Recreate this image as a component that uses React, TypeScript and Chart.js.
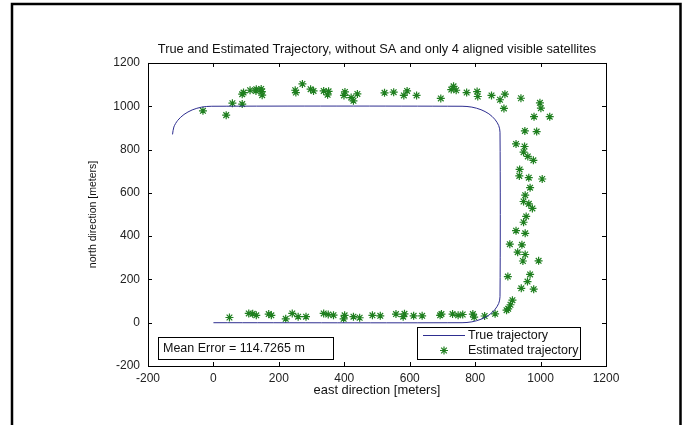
import React, { useEffect, useRef } from "react";
import { Chart, registerables } from "chart.js";

Chart.register(...registerables);

// True trajectory (east, north) in meters
const trueEast = [0, 760, 790, 818, 842, 860, 872, 876, 876, 872, 860, 842, 818, 790, 760, -5, -36, -65, -90, -109, -121, -125];
const trueNorth = [0, 0, 4, 16, 35, 60, 89, 120, 880, 911, 940, 965, 984, 996, 1000, 1000, 996, 983, 962, 935, 904, 870];

// Estimated trajectory (east, north) in meters
const estEast = [
  -32, 39, 58, 88, 88, 92, 112, 131, 146, 148, 149, 130, 250, 252, 272, 297, 306, 337, 352, 349,
  399, 402, 421, 428, 440, 523, 551, 582, 592, 621, 695, 727, 734, 742, 774, 806, 808, 850, 876, 891,
  888, 940, 998, 1001, 980, 1028,
  952, 988, 925, 951, 948, 961, 978, 936, 935, 964, 1005, 968, 953, 948, 964, 975, 956, 948, 953, 925,
  906, 943, 930, 953, 946, 994, 900, 968, 960, 941, 979, 914, 908, 901, 896, 861, 829, 797,
  793, 762, 748, 731, 697, 693, 638, 612, 584, 580, 558, 510, 486, 447, 428, 401, 398, 367, 351, 337,
  283, 259, 241, 221, 177, 169, 131, 120, 108, 49,
];
const estNorth = [
  979, 959, 1014, 1010, 1056, 1063, 1074, 1079, 1080, 1068, 1051, 1071, 1074, 1063, 1103, 1079, 1071, 1071, 1069, 1053,
  1050, 1066, 1040, 1025, 1057, 1062, 1065, 1050, 1071, 1050, 1036, 1077, 1092, 1074, 1063, 1068, 1045, 1050, 1030, 1056,
  990, 1037, 1016, 991, 952, 952,
  886, 883, 826, 814, 788, 768, 750, 708, 678, 670, 664, 624, 589, 560, 549, 528, 491, 464, 413, 425,
  363, 360, 326, 315, 285, 286, 213, 223, 190, 159, 155, 104, 83, 64, 58, 41, 31, 26,
  40, 38, 34, 40, 40, 34, 32, 32, 41, 28, 40, 32, 34, 23, 28, 34, 18, 35, 38, 43,
  28, 28, 43, 18, 34, 40, 34, 41, 43, 24,
];

const axisMin = -200;
const axisMax = 1200;
const tickStep = 200;

const titleText = "True and Estimated Trajectory, without SA and only 4 aligned visible satellites";
const xTitle = "east direction [meters]";
const yTitle = "north direction [meters]";
const meanErrorText = "Mean Error = 114.7265 m";
const legendLabels = ["True trajectory", "Estimated trajectory"];

const LINE_COLOR = "#2e2e90";
const STAR_COLOR = "#1f7f1f";
const FONT = "'Liberation Sans', Arial, Helvetica, sans-serif";

const decorPlugin = {
  id: "decor",
  beforeDraw(chart: any) {
    const ctx = chart.ctx;
    ctx.save();
    ctx.fillStyle = "#fff";
    ctx.fillRect(0, 0, chart.width, chart.height);
    ctx.strokeStyle = "#000";
    ctx.lineWidth = 2.5;
    ctx.beginPath();
    ctx.moveTo(12, 440);
    ctx.lineTo(12, 4);
    ctx.lineTo(680.5, 4);
    ctx.lineTo(680.5, 440);
    ctx.stroke();
    ctx.restore();
  },
  afterDraw(chart: any) {
    const ctx = chart.ctx;
    const { left, right, top, bottom } = chart.chartArea;
    const xs = chart.scales.x;
    const ys = chart.scales.y;
    ctx.save();
    ctx.strokeStyle = "#000";
    ctx.lineWidth = 1;
    // axes box
    ctx.strokeRect(Math.round(left) + 0.5, Math.round(top) + 0.5, Math.round(right - left), Math.round(bottom - top));
    // inward ticks
    const tl = 4;
    ctx.beginPath();
    xs.ticks.forEach((t: any) => {
      const px = Math.round(xs.getPixelForValue(t.value)) + 0.5;
      ctx.moveTo(px, bottom);
      ctx.lineTo(px, bottom - tl);
      ctx.moveTo(px, top);
      ctx.lineTo(px, top + tl);
    });
    ys.ticks.forEach((t: any) => {
      const py = Math.round(ys.getPixelForValue(t.value)) + 0.5;
      ctx.moveTo(left, py);
      ctx.lineTo(left + tl, py);
      ctx.moveTo(right, py);
      ctx.lineTo(right - tl, py);
    });
    ctx.stroke();

    ctx.font = `12.5px ${FONT}`;
    ctx.textBaseline = "middle";
    ctx.textAlign = "left";

    // mean error box
    ctx.fillStyle = "#fff";
    ctx.fillRect(158.5, 337.5, 175, 22);
    ctx.strokeRect(158.5, 337.5, 175, 22);
    ctx.fillStyle = "#111";
    ctx.fillText(meanErrorText, 163, 348.5);

    // legend box
    ctx.fillStyle = "#fff";
    ctx.fillRect(417.5, 327.5, 163, 32);
    ctx.strokeRect(417.5, 327.5, 163, 32);
    ctx.strokeStyle = LINE_COLOR;
    ctx.beginPath();
    ctx.moveTo(423, 335.5);
    ctx.lineTo(465, 335.5);
    ctx.stroke();
    // star marker
    ctx.strokeStyle = STAR_COLOR;
    ctx.lineWidth = 1.2;
    const cx = 444, cy = 350.5, r = 4;
    ctx.beginPath();
    for (let k = 0; k < 4; k++) {
      const a = (k * Math.PI) / 4;
      ctx.moveTo(cx - r * Math.cos(a), cy - r * Math.sin(a));
      ctx.lineTo(cx + r * Math.cos(a), cy + r * Math.sin(a));
    }
    ctx.stroke();
    ctx.fillStyle = "#111";
    ctx.fillText(legendLabels[0], 468, 335.5);
    ctx.fillText(legendLabels[1], 468, 350.5);
    ctx.restore();
  },
};

export default function App() {
  const ref = useRef<HTMLCanvasElement | null>(null);
  useEffect(() => {
    if (!ref.current) return;
    const truePts = trueEast.map((x, i) => ({ x, y: trueNorth[i] }));
    const estPts = estEast.map((x, i) => ({ x, y: estNorth[i] }));
    const chart = new Chart(ref.current, {
      type: "scatter",
      data: {
        datasets: [
          {
            label: legendLabels[0],
            data: truePts,
            showLine: true,
            borderColor: LINE_COLOR,
            borderWidth: 1,
            pointRadius: 0,
            tension: 0.3,
            fill: false,
          },
          {
            label: legendLabels[1],
            data: estPts,
            showLine: false,
            pointStyle: "star",
            pointRadius: 4,
            borderColor: STAR_COLOR,
            backgroundColor: STAR_COLOR,
            pointBorderWidth: 1.2,
          },
        ],
      },
      options: {
        animation: false,
        responsive: false,
        devicePixelRatio: 1,
        layout: { padding: { left: 80, right: 87, top: 30, bottom: 20 } },
        plugins: {
          legend: { display: false },
          tooltip: { enabled: false },
          title: {
            display: true,
            fullSize: false,
            text: titleText,
            color: "#111",
            font: { family: FONT, size: 12.8, weight: "normal" },
            padding: { top: 11.3, bottom: 6.3 },
          },
        },
        scales: {
          x: {
            type: "linear",
            min: axisMin,
            max: axisMax,
            ticks: {
              stepSize: tickStep,
              color: "#222",
              font: { family: FONT, size: 12 },
              padding: 5,
              maxRotation: 0,
              callback: (v: any) => String(v),
            },
            grid: { display: false, drawTicks: false, tickLength: 0 },
            border: { display: false },
            title: {
              display: true,
              text: xTitle,
              color: "#111",
              font: { family: FONT, size: 12.9 },
              padding: { top: 0, bottom: 7.3 },
            },
            afterFit: (s: any) => {
              s.height = 39;
            },
          },
          y: {
            type: "linear",
            min: axisMin,
            max: axisMax,
            ticks: {
              stepSize: tickStep,
              color: "#222",
              font: { family: FONT, size: 12 },
              padding: 8,
              callback: (v: any) => String(v),
            },
            grid: { display: false, drawTicks: false, tickLength: 0 },
            border: { display: false },
            title: {
              display: true,
              text: yTitle,
              color: "#111",
              font: { family: FONT, size: 10.5 },
              padding: { top: 6.7, bottom: 0 },
            },
            afterFit: (s: any) => {
              s.width = 68;
            },
          },
        },
      },
      plugins: [decorPlugin],
    });
    return () => chart.destroy();
  }, []);
  return (
    <div style={{ position: "fixed", left: 0, top: 0, width: 693, height: 425, background: "#fff" }}>
      <canvas ref={ref} width={693} height={425} style={{ width: 693, height: 425, display: "block" }} />
    </div>
  );
}
